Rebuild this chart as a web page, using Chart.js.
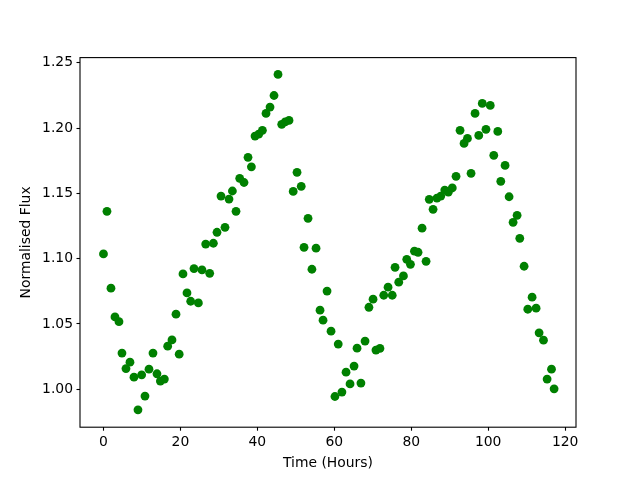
<!DOCTYPE html>
<html>
<head>
<meta charset="utf-8">
<script src="https://cdn.jsdelivr.net/npm/chart.js@4.4.0/dist/chart.umd.min.js"></script>
<style>
  html, body { margin: 0; padding: 0; background: #ffffff; }
  canvas { display: block; }
</style>
</head>
<body>
<canvas id="c" width="640" height="480"></canvas>
<script>
// Time in hours
const times = [
  0.00, 0.91, 1.95, 2.99, 4.03, 4.81, 5.85, 6.89, 7.93, 8.97,
  9.93, 10.79, 11.83, 12.87, 13.91, 14.79, 15.83, 16.69, 17.81, 18.85,
  19.68, 20.67, 21.71, 22.67, 23.53, 24.67, 25.61, 26.57, 27.61, 28.57,
  29.51, 30.55, 31.59, 32.63, 33.51, 34.45, 35.41, 36.53, 37.57, 38.45,
  39.39, 40.35, 41.31, 42.25, 43.29, 44.33, 45.37, 46.33, 47.24, 48.23,
  49.32, 50.31, 51.40, 52.13, 53.17, 54.18, 55.25, 56.29, 57.07, 58.11,
  59.15, 60.16, 61.02, 61.98, 63.05, 64.09, 65.13, 65.91, 66.92, 67.99,
  69.00, 70.07, 70.82, 71.86, 72.85, 73.97, 75.06, 75.79, 76.75, 77.97,
  78.83, 79.79, 80.83, 81.77, 82.81, 83.85, 84.68, 85.67, 86.68, 87.67,
  88.71, 89.64, 90.66, 91.64, 92.68, 93.72, 94.61, 95.54, 96.58, 97.55,
  98.46, 99.42, 100.54, 101.45, 102.49, 103.27, 104.39, 105.43, 106.47, 107.51,
  108.21, 109.33, 110.29, 111.41, 112.45, 113.23, 114.37, 115.31, 116.45, 117.13
];

// Normalised flux
const flux = [
  1.1036, 1.1362, 1.0774, 1.0554, 1.0518, 1.0277, 1.0159, 1.0208, 1.0093, 0.9843,
  1.0111, 0.9948, 1.0154, 1.0277, 1.0119, 1.0063, 1.0078, 1.0330, 1.0378, 1.0575,
  1.0269, 1.0883, 1.0738, 1.0674, 1.0924, 1.0661, 1.0914, 1.1112, 1.0888, 1.1118,
  1.1202, 1.1479, 1.1240, 1.1456, 1.1518, 1.1362, 1.1615, 1.1583, 1.1776, 1.1703,
  1.1938, 1.1953, 1.1982, 1.2112, 1.2160, 1.2249, 1.2410, 1.2028, 1.2047, 1.2058,
  1.1515, 1.1661, 1.1554, 1.1087, 1.1309, 1.0919, 1.1080, 1.0606, 1.0529, 1.0752,
  1.0445, 0.9945, 1.0346, 0.9979, 1.0131, 1.0041, 1.0178, 1.0315, 1.0048, 1.0369,
  1.0628, 1.0690, 1.0300, 1.0313, 1.0720, 1.0782, 1.0720, 1.0934, 1.0820, 1.0868,
  1.0995, 1.0957, 1.1057, 1.1049, 1.1233, 1.0980, 1.1454, 1.1378, 1.1464, 1.1479,
  1.1525, 1.1510, 1.1541, 1.1630, 1.1982, 1.1882, 1.1920, 1.1653, 1.2112, 1.1943,
  1.2188, 1.1990, 1.2173, 1.1791, 1.1974, 1.1592, 1.1714, 1.1474, 1.1278, 1.1332,
  1.1156, 1.0942, 1.0613, 1.0705, 1.0621, 1.0432, 1.0376, 1.0078, 1.0154, 1.0004
];

const xTicks = [0, 20, 40, 60, 80, 100, 120];
const yTicks = [1.00, 1.05, 1.10, 1.15, 1.20, 1.25];

const xLabel = 'Time (Hours)';
const yLabel = 'Normalised Flux';

const FONT = 'DejaVu Sans';
const FS = 13.9;

const points = times.map((t, i) => ({ x: t, y: flux[i] }));

const bgPlugin = {
  id: 'bg',
  beforeDraw(chart) {
    const ctx = chart.ctx;
    ctx.save();
    ctx.fillStyle = '#ffffff';
    ctx.fillRect(0, 0, chart.width, chart.height);
    ctx.restore();
  }
};

const framePlugin = {
  id: 'frame',
  afterDatasetsDraw(chart) {
    const a = chart.chartArea;
    const ctx = chart.ctx;
    ctx.save();
    ctx.strokeStyle = '#000000';
    ctx.lineWidth = 1.1;
    ctx.strokeRect(a.left, a.top, a.right - a.left, a.bottom - a.top);
    ctx.restore();
  }
};

new Chart(document.getElementById('c'), {
  type: 'scatter',
  data: {
    datasets: [{
      data: points,
      backgroundColor: '#008000',
      borderColor: '#008000',
      borderWidth: 0,
      pointRadius: 4.4,
      pointHoverRadius: 4.4
    }]
  },
  options: {
    responsive: false,
    animation: false,
    events: [],
    layout: { padding: { left: 0, right: 64, top: 57.6, bottom: 0 } },
    plugins: {
      legend: { display: false },
      tooltip: { enabled: false },
      title: { display: false }
    },
    scales: {
      x: {
        type: 'linear',
        min: -6.1,
        max: 122.82,
        afterBuildTicks: s => { s.ticks = xTicks.map(v => ({ value: v })); },
        afterFit: s => { s.height = 52.8; },
        ticks: {
          color: '#000000',
          font: { family: FONT, size: FS },
          padding: 3.5,
          maxRotation: 0,
          autoSkip: false,
          callback: v => String(v)
        },
        grid: {
          display: true,
          drawOnChartArea: false,
          drawTicks: true,
          tickLength: 3.5,
          tickColor: '#000000',
          tickWidth: 1.1
        },
        border: { display: false },
        title: {
          display: true,
          text: xLabel,
          color: '#000000',
          font: { family: FONT, size: FS },
          padding: { top: 0, bottom: 8.7 }
        }
      },
      y: {
        type: 'linear',
        min: 0.9710,
        max: 1.2539,
        afterBuildTicks: s => { s.ticks = yTicks.map(v => ({ value: v })); },
        afterFit: s => { s.width = 80; },
        ticks: {
          color: '#000000',
          font: { family: FONT, size: FS },
          padding: 3.5,
          autoSkip: false,
          callback: v => Number(v).toFixed(2)
        },
        grid: {
          display: true,
          drawOnChartArea: false,
          drawTicks: true,
          tickLength: 3.5,
          tickColor: '#000000',
          tickWidth: 1.1
        },
        border: { display: false },
        title: {
          display: true,
          text: yLabel,
          color: '#000000',
          font: { family: FONT, size: FS },
          padding: { top: 18.2, bottom: 0 }
        }
      }
    }
  },
  plugins: [bgPlugin, framePlugin]
});
</script>
</body>
</html>
